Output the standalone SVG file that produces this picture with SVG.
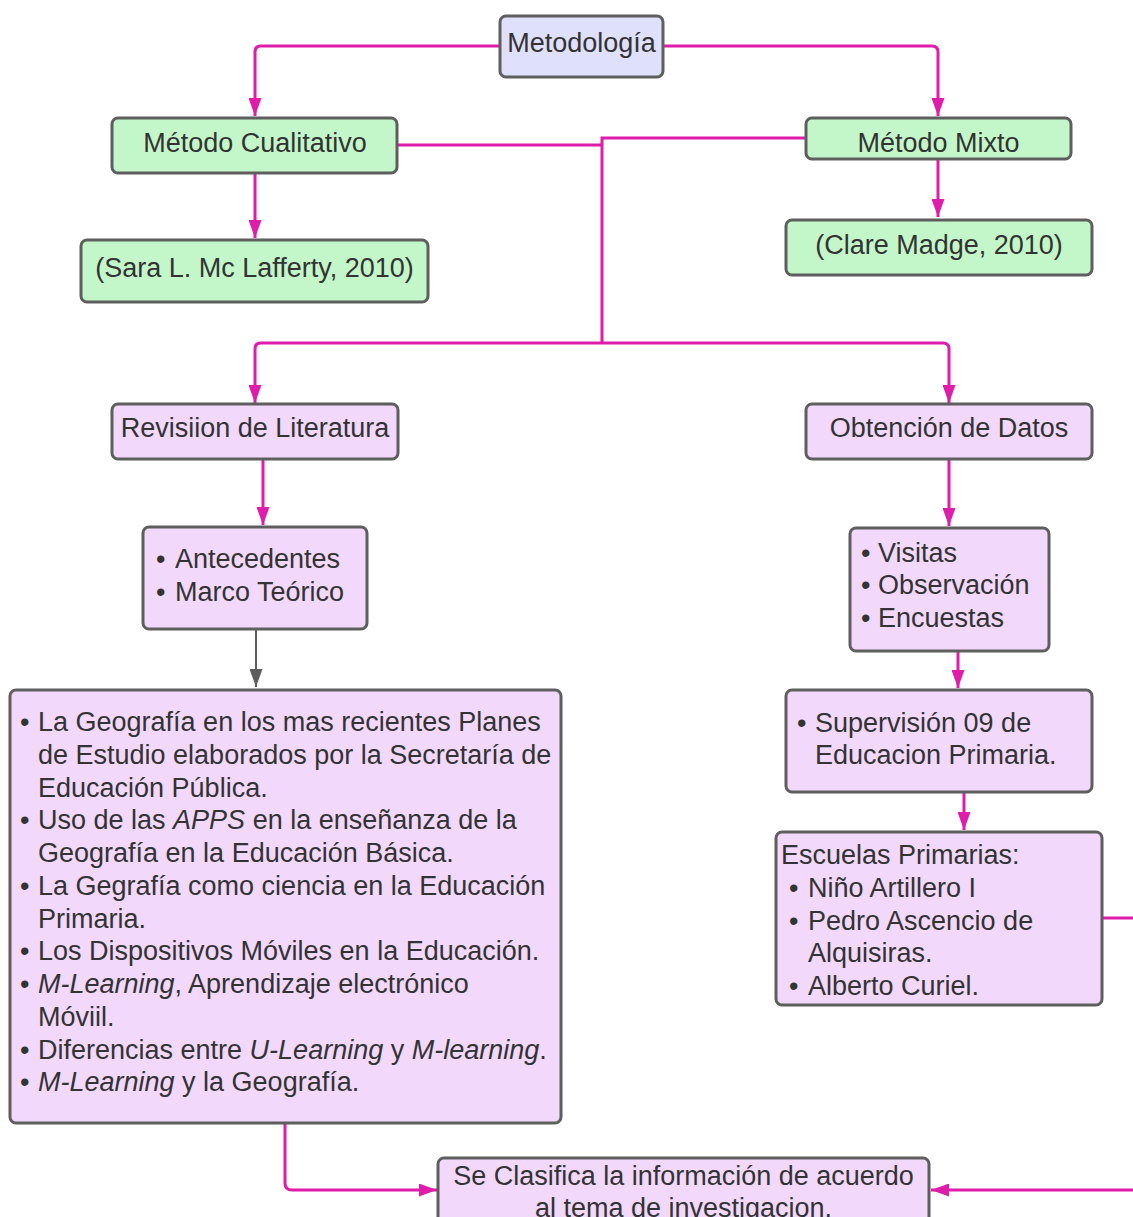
<svg xmlns="http://www.w3.org/2000/svg" width="1133" height="1217" viewBox="0 0 1133 1217">
<defs>
<style>
.box{stroke:#5e5e5e;stroke-width:3}
.g{fill:#c3f7c9}
.l{fill:#dfe0fc}
.p{fill:#f2d8fb}
text{font-family:"Liberation Sans",Arial,sans-serif;font-size:27px;fill:#333333}
.c{text-anchor:middle}
.i{font-style:italic}
.cn{fill:none;stroke:#e01caa;stroke-width:3}
.gr{fill:none;stroke:#5e5e5e;stroke-width:2}
</style>
<marker id="a" markerUnits="userSpaceOnUse" markerWidth="18" markerHeight="13" refX="18" refY="6.5" orient="auto"><path d="M0,0 L18,6.5 L0,13 z" fill="#e01caa"/></marker>
<marker id="ag" markerUnits="userSpaceOnUse" markerWidth="18" markerHeight="13" refX="18" refY="6.5" orient="auto"><path d="M0,0 L18,6.5 L0,13 z" fill="#5e5e5e"/></marker>
</defs>
<g id="connectors">
<path class="cn" d="M500,46 H261 Q255,46 255,52 V116" marker-end="url(#a)"/>
<path class="cn" d="M663,46 H932 Q938,46 938,52 V116" marker-end="url(#a)"/>
<path class="cn" d="M255,173 V238" marker-end="url(#a)"/>
<path class="cn" d="M938,159 V217" marker-end="url(#a)"/>
<path class="cn" d="M397,145 H601"/>
<path class="cn" d="M806,138 H602 V343"/>
<path class="cn" d="M602,343 H261 Q255,343 255,349 V403" marker-end="url(#a)"/>
<path class="cn" d="M602,343 H943 Q949,343 949,349 V403" marker-end="url(#a)"/>
<path class="cn" d="M263,459 V525" marker-end="url(#a)"/>
<path class="gr" d="M256,629 V687" marker-end="url(#ag)"/>
<path class="cn" d="M949,459 V526" marker-end="url(#a)"/>
<path class="cn" d="M958,651 V688" marker-end="url(#a)"/>
<path class="cn" d="M964,793 V830" marker-end="url(#a)"/>
<path class="cn" d="M285,1123 V1183 Q285,1190 292,1190 H437" marker-end="url(#a)"/>
<path class="cn" d="M1102,918 H1145 V1190 H931" marker-end="url(#a)"/>
</g>
<g id="metodologia">
<rect class="box l" x="500" y="16" width="163" height="61" rx="6"/>
<text class="c" x="581.5" y="52">Metodología</text>
</g>
<g id="cualitativo">
<rect class="box g" x="112" y="118" width="285" height="55" rx="6"/>
<text class="c" x="255" y="152">Método Cualitativo</text>
</g>
<g id="mixto">
<rect class="box g" x="806" y="118" width="265" height="41" rx="6"/>
<text class="c" x="938.5" y="152">Método Mixto</text>
</g>
<g id="sara">
<rect class="box g" x="81" y="240" width="347" height="62" rx="6"/>
<text class="c" x="254.5" y="277">(Sara L. Mc Lafferty, 2010)</text>
</g>
<g id="clare">
<rect class="box g" x="786" y="220" width="306" height="55" rx="6"/>
<text class="c" x="939" y="254">(Clare Madge, 2010)</text>
</g>
<g id="revision">
<rect class="box p" x="112" y="404" width="286" height="55" rx="6"/>
<text class="c" x="255" y="437">Revisiion de Literatura</text>
</g>
<g id="obtencion">
<rect class="box p" x="806" y="404" width="286" height="55" rx="6"/>
<text class="c" x="949" y="437">Obtención de Datos</text>
</g>
<g id="antecedentes">
<rect class="box p" x="143" y="527" width="224" height="102" rx="6"/>
<text x="156" y="568">•</text><text x="175" y="568">Antecedentes</text>
<text x="156" y="601">•</text><text x="175" y="601">Marco Teórico</text>
</g>
<g id="visitas">
<rect class="box p" x="850" y="528" width="199" height="123" rx="6"/>
<text x="861" y="562">•</text><text x="878" y="562">Visitas</text>
<text x="861" y="594">•</text><text x="878" y="594">Observación</text>
<text x="861" y="627">•</text><text x="878" y="627">Encuestas</text>
</g>
<g id="temas">
<rect class="box p" x="10" y="690" width="551" height="433" rx="6"/>
<text x="20" y="731">•</text><text x="38" y="731">La Geografía en los mas recientes Planes</text>
<text x="38" y="764">de Estudio elaborados por la Secretaría de</text>
<text x="38" y="797">Educación Pública.</text>
<text x="20" y="829">•</text><text x="38" y="829">Uso de las <tspan class="i">APPS</tspan> en la enseñanza de la</text>
<text x="38" y="862">Geografía en la Educación Básica.</text>
<text x="20" y="895">•</text><text x="38" y="895">La Gegrafía como ciencia en la Educación</text>
<text x="38" y="928">Primaria.</text>
<text x="20" y="960">•</text><text x="38" y="960">Los Dispositivos Móviles en la Educación.</text>
<text x="20" y="993">•</text><text x="38" y="993"><tspan class="i">M-Learning</tspan>, Aprendizaje electrónico</text>
<text x="38" y="1026">Móviil.</text>
<text x="20" y="1059">•</text><text x="38" y="1059">Diferencias entre <tspan class="i">U-Learning</tspan> y <tspan class="i">M-learning</tspan>.</text>
<text x="20" y="1091">•</text><text x="38" y="1091"><tspan class="i">M-Learning</tspan> y la Geografía.</text>
</g>
<g id="supervision">
<rect class="box p" x="786" y="690" width="306" height="102" rx="6"/>
<text x="797" y="732">•</text><text x="815" y="732">Supervisión 09 de</text>
<text x="815" y="764">Educacion Primaria.</text>
</g>
<g id="escuelas">
<rect class="box p" x="776" y="832" width="326" height="173" rx="6"/>
<text x="781" y="864">Escuelas Primarias:</text>
<text x="789" y="897">•</text><text x="808" y="897">Niño Artillero I</text>
<text x="789" y="930">•</text><text x="808" y="930">Pedro Ascencio de</text>
<text x="808" y="962">Alquisiras.</text>
<text x="789" y="995">•</text><text x="808" y="995">Alberto Curiel.</text>
</g>
<g id="clasifica">
<rect class="box p" x="438" y="1158" width="491" height="80" rx="6"/>
<text class="c" x="683.5" y="1185">Se Clasifica la información de acuerdo</text>
<text class="c" x="683.5" y="1217">al tema de investigacion.</text>
</g>
</svg>
